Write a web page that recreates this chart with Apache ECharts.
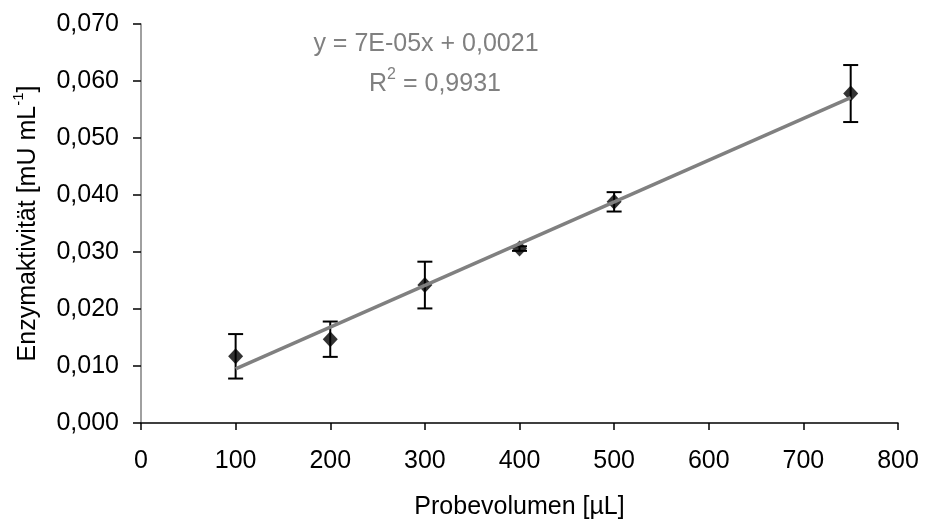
<!DOCTYPE html>
<html>
<head>
<meta charset="utf-8">
<script src="https://cdn.jsdelivr.net/npm/echarts@6/dist/echarts.min.js"></script>
<style>
html,body{margin:0;padding:0;background:#fff;}
#chart{width:925px;height:527px;}
</style>
</head>
<body>
<div id="chart"></div>
<script>
// Data
var volumes = [100, 200, 300, 400, 500, 750];          // Probevolumen [µL]
var activity = [0.0117, 0.0147, 0.0242, 0.0306, 0.0388, 0.0578]; // mU mL-1
var errors = [0.0039, 0.0031, 0.0041, 0.0004, 0.0017, 0.0050];
var equationText = 'y = 7E-05x + 0,0021';
var r2Text = '0,9931';

// least-squares trend line through the data (as in the original)
function fit(xs, ys) {
  var n = xs.length, mx = 0, my = 0;
  for (var i = 0; i < n; i++) { mx += xs[i]; my += ys[i]; }
  mx /= n; my /= n;
  var sxy = 0, sxx = 0;
  for (var j = 0; j < n; j++) { sxy += (xs[j] - mx) * (ys[j] - my); sxx += (xs[j] - mx) * (xs[j] - mx); }
  var b = sxy / sxx;
  return { slope: b, intercept: my - b * mx };
}
var f = fit(volumes, activity);
var xMin = Math.min.apply(null, volumes), xMax = Math.max.apply(null, volumes);
var trend = [[xMin, f.intercept + f.slope * xMin], [xMax, f.intercept + f.slope * xMax]];

var points = volumes.map(function (v, i) { return [v, activity[i]]; });
var errData = volumes.map(function (v, i) { return [v, activity[i] - errors[i], activity[i] + errors[i]]; });

var FONT = 'Liberation Sans, Arial, sans-serif';
var chart = echarts.init(document.getElementById('chart'));
chart.setOption({
  animation: false,
  backgroundColor: '#fff',
  grid: { left: 141, right: 27, top: 24, bottom: 104 },
  xAxis: {
    type: 'value', min: 0, max: 800, interval: 100,
    name: 'Probevolumen [µL]', nameLocation: 'middle', nameGap: 72,
    nameTextStyle: { fontFamily: FONT, fontSize: 25, color: '#000' },
    axisLine: { lineStyle: { color: '#000', width: 1.5 } },
    axisTick: { show: true, length: 7, lineStyle: { color: '#000', width: 1.5 } },
    axisLabel: { fontFamily: FONT, fontSize: 25, color: '#000', margin: 26 },
    splitLine: { show: false }
  },
  yAxis: {
    type: 'value', min: 0, max: 0.07, interval: 0.01,
    name: '{a|Enzymaktivität [mU mL}{s|-1}{a|]}', nameLocation: 'middle', nameGap: 100, nameRotate: 90,
    nameTextStyle: {
      fontFamily: FONT, fontSize: 25, color: '#000',
      rich: {
        a: { fontFamily: FONT, fontSize: 25, color: '#000', lineHeight: 30, verticalAlign: 'bottom' },
        s: { fontFamily: FONT, fontSize: 15, color: '#000', lineHeight: 30, verticalAlign: 'top' }
      }
    },
    axisLine: { show: true, lineStyle: { color: '#808080', width: 1.5 } },
    axisTick: { show: true, length: 8, lineStyle: { color: '#000', width: 1.5 } },
    axisLabel: {
      fontFamily: FONT, fontSize: 25, color: '#000', margin: 22,
      formatter: function (v) { return v.toFixed(3).replace('.', ','); }
    },
    splitLine: { show: false }
  },
  graphic: [
    { type: 'text', z: 100,
      style: { text: equationText, x: 426, y: 44, align: 'center', verticalAlign: 'middle',
               font: '25px ' + FONT, fill: '#808080' } },
    { type: 'text', z: 100,
      style: { text: '{a|R}{s|2}{a| = ' + r2Text + '}', x: 435, y: 82, align: 'center', verticalAlign: 'middle',
               rich: {
                 a: { fontFamily: FONT, fontSize: 25, fill: '#808080', color: '#808080', lineHeight: 30, verticalAlign: 'bottom' },
                 s: { fontFamily: FONT, fontSize: 16, fill: '#808080', color: '#808080', lineHeight: 30, verticalAlign: 'top' }
               } } }
  ],
  series: [
    {
      type: 'custom', name: 'err', z: 2,
      renderItem: function (params, api) {
        var x = api.value(0);
        var lo = api.coord([x, api.value(1)]);
        var hi = api.coord([x, api.value(2)]);
        var w = 7.5;
        var st = { stroke: '#000', lineWidth: 2 };
        return { type: 'group', children: [
          { type: 'line', shape: { x1: lo[0], y1: lo[1], x2: hi[0], y2: hi[1] }, style: st },
          { type: 'line', shape: { x1: lo[0] - w, y1: lo[1], x2: lo[0] + w, y2: lo[1] }, style: st },
          { type: 'line', shape: { x1: hi[0] - w, y1: hi[1], x2: hi[0] + w, y2: hi[1] }, style: st }
        ] };
      },
      encode: { x: 0, y: [1, 2] },
      data: errData
    },
    {
      type: 'scatter', z: 3, symbol: 'diamond', symbolSize: [15, 16],
      itemStyle: { color: '#000' },
      data: points
    },
    {
      type: 'line', z: 4, symbol: 'none', silent: true,
      lineStyle: { color: '#808080', width: 3.5 },
      data: trend
    }
  ]
});
</script>
</body>
</html>
